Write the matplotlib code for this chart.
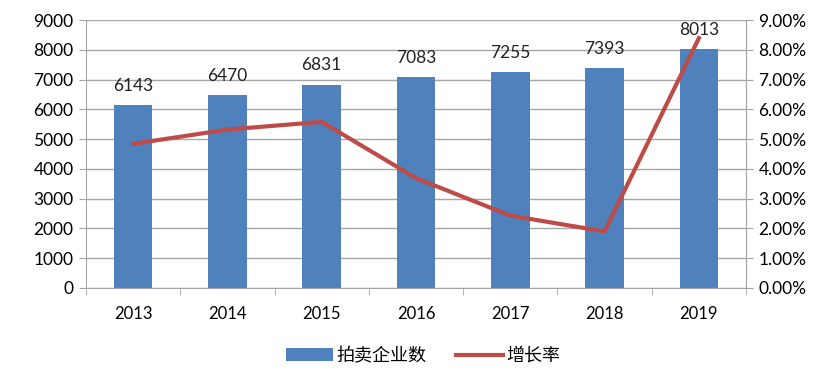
import matplotlib.pyplot as plt
import numpy as np

plt.rcParams['font.family'] = ['Lato', 'Noto Sans CJK SC', 'DejaVu Sans']

years = ['2013', '2014', '2015', '2016', '2017', '2018', '2019']
companies = [6143, 6470, 6831, 7083, 7255, 7393, 8013]
growth = [4.84, 5.32, 5.58, 3.69, 2.43, 1.90, 8.39]  # percent

bar_color = '#4F81BD'
line_color = '#BE4B48'
grid_color = '#A6A6A6'

fig = plt.figure(figsize=(8.38, 3.74), dpi=100)
ax = fig.add_axes([0.1026, 0.23, 0.7876, 0.7165])
x = np.arange(len(years))

bars = ax.bar(x, companies, width=0.41, color=bar_color, zorder=2, label='拍卖企业数')
for xi, v in zip(x, companies):
    ax.annotate(str(v), (xi, v), xytext=(0, 8), textcoords='offset points',
                ha='center', va='bottom', fontsize=12.5, color='#222222')

ax.set_ylim(0, 9000)
ax.set_yticks(np.arange(0, 9001, 1000))
ax.set_xlim(-0.5, len(years) - 0.5)
ax.set_xticks(x)
ax.set_xticklabels(years)
ax.set_xticks(np.arange(-0.5, len(years), 1), minor=True)
ax.tick_params(axis='x', which='major', length=0, pad=13, labelsize=12)
ax.tick_params(axis='x', which='minor', length=5, color=grid_color, direction='out')
ax.tick_params(axis='y', length=5, color=grid_color, labelsize=12.5, pad=4)
ax.grid(axis='y', color=grid_color, linewidth=1, zorder=0)
ax.set_axisbelow(True)
ax.spines['top'].set_visible(False)
for s in ['left', 'bottom', 'right']:
    ax.spines[s].set_color(grid_color)

ax2 = ax.twinx()
line, = ax2.plot(x, growth, color=line_color, linewidth=3, zorder=3, label='增长率')
ax2.set_ylim(0, 9)
ax2.set_yticks(np.arange(0, 9.01, 1))
ax2.set_yticklabels(['%.2f%%' % t for t in np.arange(0, 9.01, 1)])
ax2.tick_params(axis='y', length=5, color=grid_color, labelsize=12.5, pad=4)
for s in ['top', 'left', 'bottom']:
    ax2.spines[s].set_visible(False)
ax2.spines['right'].set_color(grid_color)

fig.legend([bars, line], ['拍卖企业数', '增长率'], loc='center', bbox_to_anchor=(0.505, 0.05),
           ncol=2, frameon=False, fontsize=13, handlelength=2.6, handletextpad=0.2,
           columnspacing=1.6)

fig.savefig('out.png', dpi=100)
